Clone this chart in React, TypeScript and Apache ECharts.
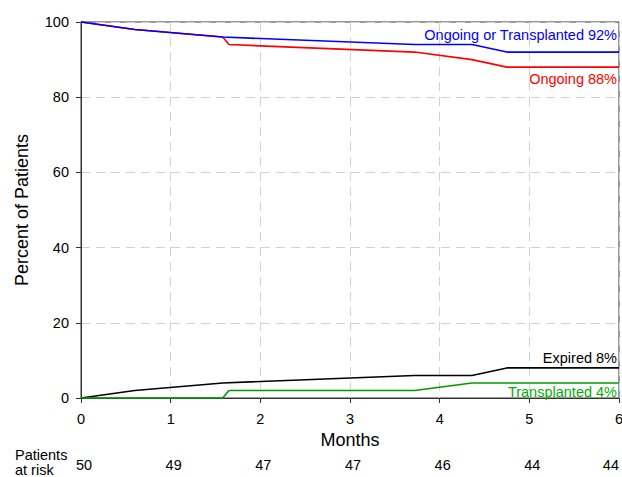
import React, { useEffect, useRef } from "react";
import * as echarts from "echarts";

const monthTicks = [0, 1, 2, 3, 4, 5, 6];
const atRisk = [50, 49, 47, 47, 46, 44, 44];

const ongoingOrTxMonths = [0, 0.6, 1.58, 3.72, 4.36, 4.75, 6];
const ongoingOrTxValues = [100, 98, 96, 94, 94, 92, 92];

const ongoingMonths = [0, 0.6, 1.58, 1.65, 3.72, 4.36, 4.75, 6];
const ongoingValues = [100, 98, 96, 94, 92, 90, 88, 88];

const expiredMonths = [0, 0.6, 1.58, 3.72, 4.36, 4.75, 6];
const expiredValues = [0, 2, 4, 6, 6, 8, 8];

const transplantedMonths = [0, 1.58, 1.65, 3.72, 4.36, 6];
const transplantedValues = [0, 0, 2, 2, 4, 4];

const FONT = "'Liberation Sans', Arial, Helvetica, sans-serif";

function pairs(xs: number[], ys: number[]) {
  return xs.map((x, i) => [x, ys[i]]);
}

function endLabel(text: string, color: string, x: number, y: number, dy: number) {
  return {
    silent: true,
    symbol: "circle",
    symbolSize: 0,
    data: [
      {
        coord: [x, y],
        label: {
          show: true,
          position: "left",
          distance: 2,
          offset: [0, dy],
          formatter: text,
          color,
          fontSize: 14.5,
          fontFamily: FONT,
        },
      },
    ],
  };
}

export default function App() {
  const ref = useRef<HTMLDivElement>(null);
  useEffect(() => {
    if (!ref.current) return;
    const chart = echarts.init(ref.current, undefined, { renderer: "svg" });
    const lineSeries = (
      name: string,
      data: number[][],
      color: string,
      mp: any
    ) => ({
      name,
      type: "line",
      data,
      showSymbol: false,
      symbol: "none",
      clip: false,
      lineStyle: { color, width: 1.6 },
      itemStyle: { color },
      markPoint: mp,
    });
    chart.setOption({
      animation: false,
      backgroundColor: "#ffffff",
      textStyle: { fontFamily: FONT },
      grid: {
        left: 81,
        right: 3,
        top: 22,
        bottom: 79,
        containLabel: false,
        outerBoundsMode: "none",
        show: true,
        borderColor: "#333",
        borderWidth: 1,
        backgroundColor: "transparent",
      },
      xAxis: [
        {
          type: "value",
          min: 0,
          max: 6,
          interval: 1,
          name: "Months",
          nameLocation: "middle",
          nameGap: 32,
          nameTextStyle: { fontSize: 18, color: "#000", fontFamily: FONT },
          axisLine: { show: true, lineStyle: { color: "#333", width: 1 } },
          axisTick: { show: true, length: 5, lineStyle: { color: "#333" } },
          axisLabel: {
            fontSize: 14.5,
            color: "#000",
            margin: 13,
            fontFamily: FONT,
            showMaxLabel: true,
            showMinLabel: true,
          },
          splitLine: {
            show: true,
            lineStyle: { color: "#d2d2d2", type: [9, 6], width: 1 },
          },
        },
        {
          type: "value",
          position: "bottom",
          offset: 46,
          min: 0,
          max: 6,
          interval: 1,
          axisLine: { show: false },
          axisTick: { show: false },
          splitLine: { show: false },
          axisLabel: {
            fontSize: 14.5,
            color: "#000",
            margin: 13,
            padding: [0, 0, 0, 6],
            fontFamily: FONT,
            showMaxLabel: true,
            showMinLabel: true,
            alignMaxLabel: "right",
            formatter: (v: number) => {
              const i = monthTicks.indexOf(Math.round(v));
              return i >= 0 ? String(atRisk[i]) : "";
            },
          },
        },
      ],
      yAxis: {
        type: "value",
        min: 0,
        max: 100,
        interval: 20,
        name: "Percent of Patients",
        nameLocation: "middle",
        nameGap: 50,
        nameTextStyle: { fontSize: 18, color: "#000", fontFamily: FONT },
        axisLine: { show: true, lineStyle: { color: "#333", width: 1 } },
        axisTick: { show: true, length: 5, lineStyle: { color: "#333" } },
        axisLabel: { fontSize: 14.5, color: "#000", margin: 12, fontFamily: FONT },
        splitLine: {
          show: true,
          lineStyle: { color: "#d2d2d2", type: [9, 6], width: 1 },
        },
      },
      graphic: [
        {
          type: "text",
          left: 15,
          top: 447,
          style: {
            text: "Patients\nat risk",
            fontSize: 14.5,
            lineHeight: 15.5,
            fill: "#000",
            fontFamily: FONT,
          },
        },
      ],
      series: [
        lineSeries(
          "Ongoing",
          pairs(ongoingMonths, ongoingValues),
          "#ff0000",
          endLabel("Ongoing 88%", "#ff0000", 6, 88, 12)
        ),
        lineSeries(
          "Ongoing or Transplanted",
          pairs(ongoingOrTxMonths, ongoingOrTxValues),
          "#0000ff",
          endLabel("Ongoing or Transplanted 92%", "#0000ff", 6, 92, -17)
        ),
        lineSeries(
          "Expired",
          pairs(expiredMonths, expiredValues),
          "#000000",
          endLabel("Expired 8%", "#000000", 6, 8, -10)
        ),
        lineSeries(
          "Transplanted",
          pairs(transplantedMonths, transplantedValues),
          "#009900",
          endLabel("Transplanted 4%", "#00b000", 6, 4, 9)
        ),
      ],
    });
    return () => chart.dispose();
  }, []);
  return (
    <div
      ref={ref}
      style={{ position: "fixed", left: 0, top: 0, width: 622, height: 477 }}
    />
  );
}
